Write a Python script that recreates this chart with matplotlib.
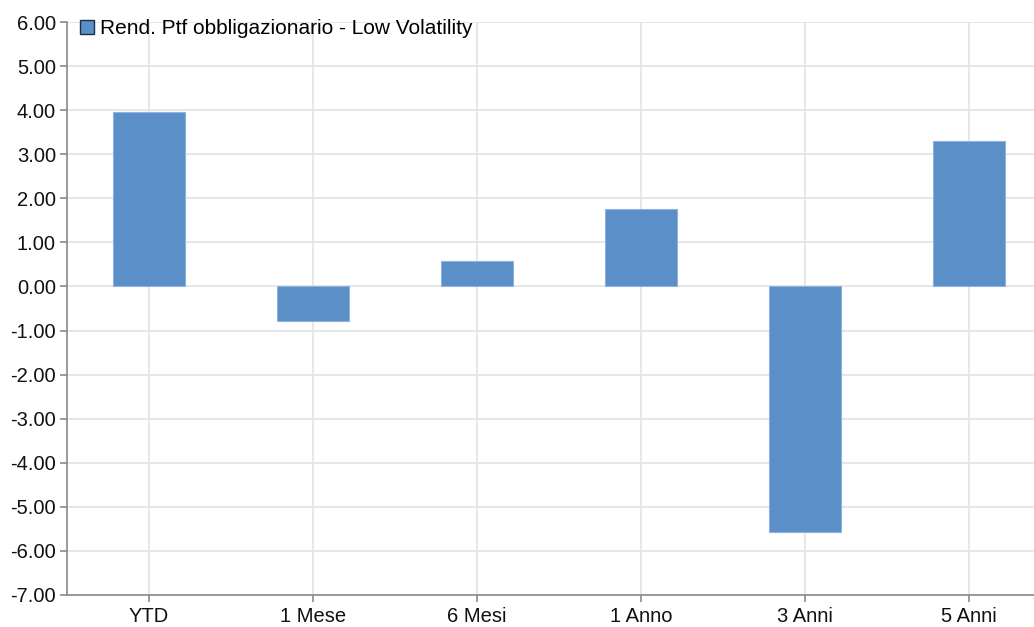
import numpy as np
import matplotlib.pyplot as plt
from matplotlib.patches import Patch

categories = ["YTD", "1 Mese", "6 Mesi", "1 Anno", "3 Anni", "5 Anni"]
values = [3.96, -0.78, 0.58, 1.76, -5.58, 3.30]
series_name = "Rend. Ptf obbligazionario - Low Volatility"
yticks = np.arange(-7, 7, 1)

plt.rcParams["font.family"] = ["Liberation Sans", "DejaVu Sans"]

fig = plt.figure(figsize=(10.34, 6.27), dpi=100)
# band of the last category runs past the right border, as in the original crop
ax = fig.add_axes([67 / 1034, 1 - 595 / 627, 984 / 1034, 573 / 627])

x = np.arange(len(categories))
ax.bar(x, values, width=0.44, color="#5b8fc8", edgecolor="#8fb3de", linewidth=0.8, zorder=3)

ax.set_xlim(-0.5, len(categories) - 0.5)
ax.set_ylim(-7, 6)
ax.set_yticks(yticks)
ax.set_yticklabels([f"{v:.2f}" for v in yticks])
ax.set_xticks(x)
ax.set_xticklabels(categories)

ax.grid(True, color="#e3e3e3", linewidth=1.2, zorder=0)
ax.set_axisbelow(True)
for s in ["top", "right"]:
    ax.spines[s].set_visible(False)
for s in ["left", "bottom"]:
    ax.spines[s].set_color("#8a8a8a")
    ax.spines[s].set_linewidth(1.2)
ax.tick_params(axis="both", colors="#8a8a8a", labelcolor="#111111", labelsize=14.5, length=5, width=1.2)
ax.tick_params(axis="y", pad=3)
ax.tick_params(axis="x", pad=4)

handle = Patch(facecolor="#5b8fc8", edgecolor="#1f2f45", linewidth=1.0)
ax.legend([handle], [series_name], loc="upper left", bbox_to_anchor=(-0.002, 1.03), frameon=False,
          fontsize=15, handlelength=0.7, handleheight=0.7, handletextpad=0.3, borderaxespad=0.3)

fig.savefig("out.png", dpi=100)
